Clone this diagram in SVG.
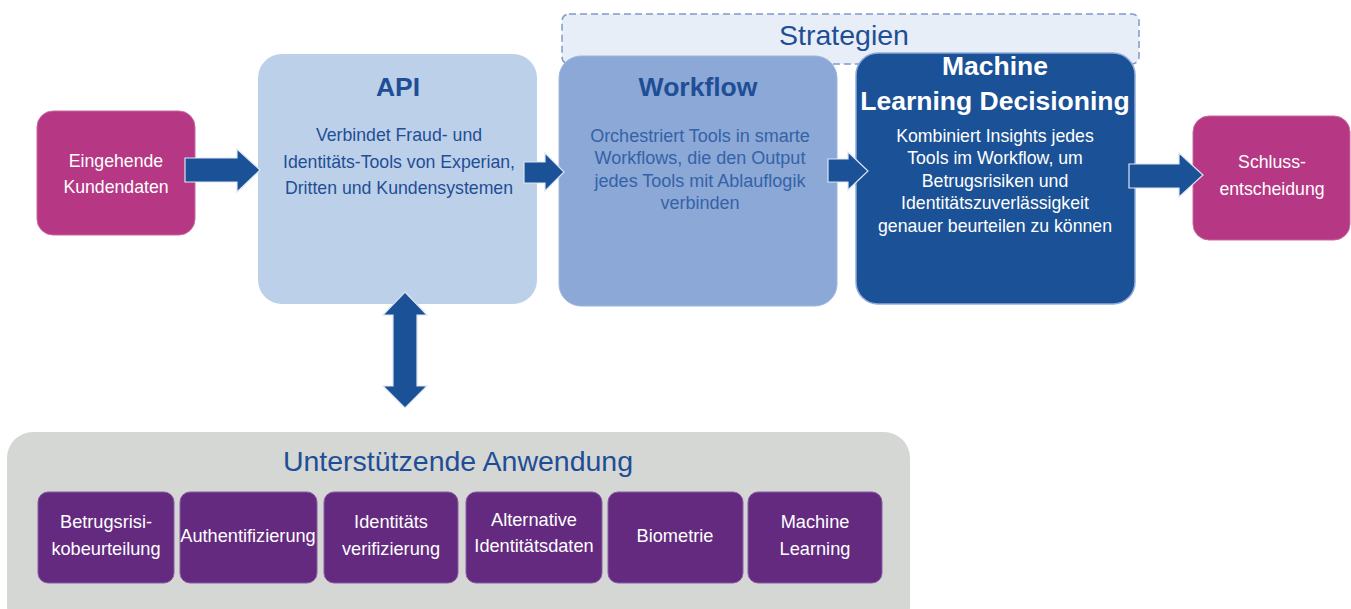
<svg xmlns="http://www.w3.org/2000/svg" width="1351" height="609" viewBox="0 0 1351 609">
<style>
text{font-family:"Liberation Sans",Arial,sans-serif;text-anchor:middle}
.w{fill:#ffffff;font-size:17.7px}
.b{fill:#1F4E96;font-size:17.7px}
.bl{fill:#3462A8;font-size:18px}
.t{font-size:26.5px;font-weight:bold}
.h{font-size:28.5px;fill:#1F4E96}
.p{fill:#ffffff;font-size:18.2px}
.arr{fill:#1B5196;stroke:#DCE5F2;stroke-width:1.2}
.mag{fill:#B63783;stroke:#C56AA0;stroke-width:1}
.pur{fill:#632A7F;stroke:#8A5CA3;stroke-width:1}
</style>
<rect width="1351" height="609" fill="#ffffff"/>
<g id="strategien">
<rect x="562" y="14" width="577" height="50" rx="7" fill="#E8EEF7" stroke="#7F9BCB" stroke-width="1.5" stroke-dasharray="7,4"/>
<text class="h" x="844" y="45" font-size="29px">Strategien</text>
</g>
<g id="eingehende">
<rect class="mag" x="37" y="111" width="158" height="124" rx="16"/>
<text class="w" x="116" y="167">Eingehende</text>
<text class="w" x="116" y="193">Kundendaten</text>
</g>
<g id="api">
<rect x="258" y="54" width="279" height="250" rx="24" fill="#BDD0E9"/>
<text class="t" x="398" y="96" fill="#1F4E96">API</text>
<text class="b" x="399" y="141">Verbindet Fraud- und</text>
<text class="b" x="399" y="168">Identitäts-Tools von Experian,</text>
<text class="b" x="399" y="194">Dritten und Kundensystemen</text>
</g>
<g id="workflow">
<rect x="559" y="56" width="278" height="250" rx="22" fill="#8CA8D6" stroke="#9EB5DD" stroke-width="1"/>
<text class="t" x="698" y="96" fill="#1F4E96" font-size="27px">Workflow</text>
<text class="bl" x="700" y="142">Orchestriert Tools in smarte</text>
<text class="bl" x="700" y="164">Workflows, die den Output</text>
<text class="bl" x="700" y="187">jedes Tools mit Ablauflogik</text>
<text class="bl" x="700" y="209">verbinden</text>
</g>
<g id="ml">
<rect x="856" y="53" width="279" height="251" rx="22" fill="#1B5196" stroke="#8FAAD8" stroke-width="1.5"/>
<text class="t" x="995" y="75" fill="#ffffff">Machine</text>
<text class="t" x="995" y="110" fill="#ffffff">Learning Decisioning</text>
<text class="w" x="995" y="142">Kombiniert Insights jedes</text>
<text class="w" x="995" y="164">Tools im Workflow, um</text>
<text class="w" x="995" y="187">Betrugsrisiken und</text>
<text class="w" x="995" y="209">Identitätszuverlässigkeit</text>
<text class="w" x="995" y="232">genauer beurteilen zu können</text>
</g>
<g id="schluss">
<rect class="mag" x="1193" y="116" width="157" height="124" rx="16"/>
<text class="w" x="1272" y="168">Schluss-</text>
<text class="w" x="1272" y="195">entscheidung</text>
</g>
<g id="unterstuetzend">
<rect x="7" y="432" width="903" height="200" rx="26" fill="#D5D7D5"/>
<text class="h" x="458" y="471">Unterstützende Anwendung</text>
</g>
<g id="betrugsrisiko">
<rect class="pur" x="38" y="492" width="136" height="91" rx="10"/>
<text class="p" x="106" y="528">Betrugsrisi-</text>
<text class="p" x="106" y="555">kobeurteilung</text>
</g>
<g id="authentifizierung">
<rect class="pur" x="180" y="492" width="137" height="91" rx="10"/>
<text class="p" x="248" y="542">Authentifizierung</text>
</g>
<g id="identitaetsverifizierung">
<rect class="pur" x="324" y="492" width="134" height="91" rx="10"/>
<text class="p" x="391" y="528">Identitäts</text>
<text class="p" x="391" y="555">verifizierung</text>
</g>
<g id="alternative">
<rect class="pur" x="466" y="492" width="136" height="91" rx="10"/>
<text class="p" x="534" y="526">Alternative</text>
<text class="p" x="534" y="552">Identitätsdaten</text>
</g>
<g id="biometrie">
<rect class="pur" x="608" y="492" width="135" height="91" rx="10"/>
<text class="p" x="675" y="542">Biometrie</text>
</g>
<g id="machinelearning">
<rect class="pur" x="748" y="492" width="134" height="91" rx="10"/>
<text class="p" x="815" y="528">Machine</text>
<text class="p" x="815" y="555">Learning</text>
</g>
<g id="connectors">
<polygon class="arr" points="185,158 237,158 237,149 260,170 237,192 237,182 185,182"/>
<polygon class="arr" points="524,162 545,162 545,153 564,172 545,191 545,183 524,183"/>
<polygon class="arr" points="828,159 848,159 848,152 868,171 848,190 848,182 828,182"/>
<polygon class="arr" points="1129,164 1179,164 1179,153 1203,175 1179,197 1179,188 1129,188"/>
<polygon class="arr" points="405,292 427,315 417,315 417,386 427,386 405,408 383,386 393,386 393,315 383,315"/>
</g>
</svg>
